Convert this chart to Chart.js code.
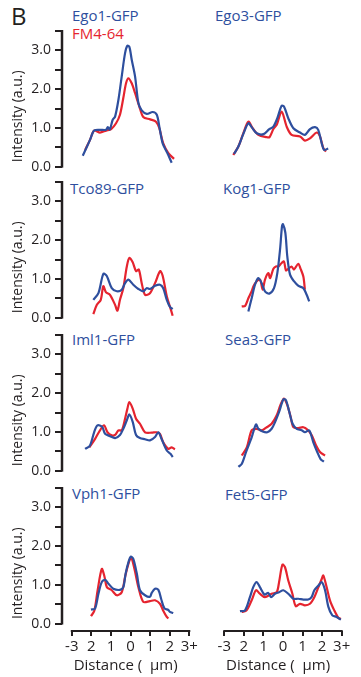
<!DOCTYPE html>
<html>
<head>
<meta charset="utf-8">
<script src="https://cdn.jsdelivr.net/npm/chart.js@4/dist/chart.umd.min.js"></script>
<style>
  html, body { margin: 0; padding: 0; background: #fff; }
  body { width: 361px; height: 677px; position: relative; overflow: hidden; font-family: "Open Sans", sans-serif; }
  canvas { position: absolute; }
  .lbl { position: absolute; white-space: nowrap; line-height: 1; }
  .blue { color: #2e4f9e; font-size: 15px; }
  .red { color: #e5242f; font-size: 15px; }
</style>
</head>
<body>
<div class="lbl" style="left:11px; top:4px; font-size:24px; color:#231f20;">B</div>
<div class="lbl blue" style="left:72px; top:8px;">Ego1-GFP</div>
<div class="lbl red" style="left:72px; top:26px;">FM4-64</div>
<div class="lbl blue" style="left:215px; top:8px;">Ego3-GFP</div>
<div class="lbl blue" style="left:70px; top:181px;">Tco89-GFP</div>
<div class="lbl blue" style="left:223px; top:181px;">Kog1-GFP</div>
<div class="lbl blue" style="left:72px; top:332px;">Iml1-GFP</div>
<div class="lbl blue" style="left:225px; top:332px;">Sea3-GFP</div>
<div class="lbl blue" style="left:72px; top:486px;">Vph1-GFP</div>
<div class="lbl blue" style="left:225px; top:487px;">Fet5-GFP</div>
<script>
// ---------- DATA ----------
const xTickValues = [-3, -2, -1, 0, 1, 2, 3];
const xTickLabels = ['-3', '2', '1', '0', '1', '2', '3+'];
const yTickValues = [0, 0.5, 1, 1.5, 2, 2.5, 3, 3.5];
const yTickLabels = ['0.0', '', '1.0', '', '2.0', '', '3.0', ''];
const panelNames = ['Ego1-GFP', 'Ego3-GFP', 'Tco89-GFP', 'Kog1-GFP', 'Iml1-GFP', 'Sea3-GFP', 'Vph1-GFP', 'Fet5-GFP'];
const seriesNames = ['GFP', 'FM4-64'];

const ego1GfpX = [-2.44,-2.24,-2.07,-1.86,-1.56,-1.25,-1.16,-1.06,-0.91,-0.79,-0.62,-0.45,-0.28,-0.16,-0.06,0.06,0.23,0.40,0.57,0.83,1.13,1.34,1.47,1.64,1.88,2.10];
const ego1GfpY = [0.28,0.50,0.69,0.93,0.95,0.95,1.02,0.96,1.21,1.29,1.72,2.33,2.93,3.12,3.09,2.76,2.33,1.64,1.45,1.36,1.41,1.34,1.03,0.60,0.35,0.10];
const ego1FmX = [-2.32,-2.07,-1.86,-1.56,-1.25,-0.99,-0.74,-0.54,-0.37,-0.23,-0.11,0.06,0.23,0.45,0.65,1.00,1.30,1.47,1.67,1.93,2.22];
const ego1FmY = [0.43,0.69,0.93,0.88,0.93,0.97,1.12,1.34,1.77,2.15,2.28,2.15,1.90,1.55,1.28,1.22,1.16,0.99,0.60,0.35,0.20];

const ego3GfpX = [-2.50,-2.28,-2.03,-1.77,-1.60,-1.34,-0.99,-0.70,-0.49,-0.29,-0.07,0.05,0.27,0.53,0.87,1.12,1.38,1.64,1.80,1.98,2.10,2.31];
const ego3GfpY = [0.33,0.52,0.84,1.12,1.02,0.86,0.84,0.97,1.03,1.25,1.57,1.55,1.25,0.99,0.88,0.82,0.97,1.02,0.95,0.60,0.43,0.47];
const ego3FmX = [-2.54,-2.28,-2.03,-1.77,-1.55,-1.26,-0.83,-0.69,-0.49,-0.32,-0.07,0.19,0.44,0.87,1.12,1.38,1.72,1.89,2.06,2.20];
const ego3FmY = [0.30,0.52,0.86,1.16,0.99,0.82,0.76,0.76,0.97,1.08,1.42,1.03,0.82,0.78,0.67,0.73,0.88,0.78,0.48,0.39];

const tco89GfpX = [-1.90,-1.64,-1.39,-1.22,-0.96,-0.70,-0.45,-0.28,-0.11,0.14,0.40,0.65,0.82,0.99,1.25,1.50,1.67,1.85,2.02,2.15];
const tco89GfpY = [0.46,0.63,1.13,1.08,0.76,0.68,0.72,0.89,0.98,0.85,0.74,0.68,0.76,0.74,0.82,0.85,0.76,0.46,0.27,0.22];
const tco89FmX = [-1.90,-1.72,-1.52,-1.39,-1.25,-1.05,-0.79,-0.67,-0.54,-0.37,-0.19,-0.06,0.11,0.28,0.42,0.57,0.74,0.99,1.25,1.51,1.64,1.85,2.02,2.15];
const tco89FmY = [0.09,0.33,0.46,0.81,0.65,0.59,0.33,0.18,0.46,0.76,1.32,1.54,1.43,1.20,1.24,0.89,0.59,0.63,0.89,1.20,1.08,0.55,0.27,0.05];

const kog1GfpX = [-1.77,-1.60,-1.43,-1.26,-1.09,-0.92,-0.70,-0.46,-0.29,-0.15,-0.05,0.00,0.12,0.22,0.36,0.56,0.79,1.04,1.21,1.34];
const kog1GfpY = [0.16,0.50,0.85,1.02,0.89,0.68,0.62,0.76,1.15,1.76,2.36,2.41,2.19,1.58,1.11,0.94,0.82,0.76,0.59,0.42];
const kog1FmX = [-2.11,-1.94,-1.77,-1.60,-1.51,-1.34,-1.17,-1.04,-0.92,-0.75,-0.66,-0.49,-0.36,-0.24,-0.07,0.05,0.15,0.27,0.44,0.56,0.78,0.90,1.04,1.12];
const kog1FmY = [0.29,0.30,0.50,0.68,0.81,0.94,0.98,0.72,0.98,1.15,1.02,1.26,1.32,1.32,1.41,1.45,1.22,1.26,1.32,1.24,1.39,1.26,1.06,0.72];

const iml1GfpX = [-2.32,-2.07,-1.86,-1.69,-1.45,-1.30,-1.05,-0.79,-0.54,-0.37,-0.19,-0.06,0.11,0.28,0.48,0.74,0.99,1.25,1.42,1.59,1.85,2.05,2.15];
const iml1GfpY = [0.56,0.65,0.99,1.17,1.13,0.95,0.89,0.84,0.92,1.08,1.30,1.45,1.26,0.92,0.84,0.81,0.78,0.87,0.99,0.81,0.52,0.43,0.35];
const iml1FmX = [-2.10,-1.81,-1.56,-1.35,-1.18,-0.96,-0.79,-0.62,-0.45,-0.28,-0.16,-0.06,0.11,0.28,0.48,0.74,1.08,1.34,1.50,1.67,1.93,2.10,2.27];
const iml1FmY = [0.60,0.82,1.04,1.17,0.99,0.91,0.92,1.04,1.04,1.34,1.60,1.77,1.60,1.34,1.21,0.99,0.98,0.99,0.95,0.73,0.56,0.60,0.55];

const sea3GfpX = [-2.28,-2.11,-1.89,-1.60,-1.38,-1.26,-1.04,-0.80,-0.58,-0.41,-0.19,0.02,0.15,0.32,0.49,0.70,0.95,1.12,1.34,1.55,1.75,1.92,2.09];
const sea3GfpY = [0.10,0.17,0.48,0.86,1.19,1.08,1.01,0.99,1.08,1.25,1.53,1.84,1.82,1.52,1.21,1.08,1.04,0.99,1.04,0.73,0.48,0.30,0.23];
const sea3FmX = [-2.11,-1.85,-1.60,-1.34,-1.09,-0.83,-0.58,-0.32,-0.12,0.05,0.22,0.39,0.53,0.78,1.04,1.24,1.47,1.69,1.89,2.15];
const sea3FmY = [0.39,0.60,1.04,1.08,1.04,1.12,1.21,1.43,1.71,1.86,1.69,1.39,1.12,1.10,1.12,1.06,0.91,0.65,0.48,0.39];

const vph1GfpX = [-2.02,-1.81,-1.64,-1.47,-1.30,-1.13,-0.88,-0.54,-0.37,-0.25,-0.11,0.01,0.14,0.32,0.48,0.74,0.99,1.08,1.25,1.42,1.56,1.73,1.93,2.01,2.18];
const vph1GfpY = [0.36,0.39,0.77,1.07,1.13,1.03,0.90,0.87,0.94,1.29,1.58,1.73,1.67,1.29,0.86,0.73,0.69,0.79,0.90,0.87,0.64,0.39,0.35,0.30,0.27];
const vph1FmX = [-2.02,-1.85,-1.68,-1.47,-1.33,-1.21,-0.96,-0.70,-0.45,-0.28,-0.11,0.03,0.20,0.40,0.65,0.99,1.25,1.50,1.67,1.85,1.93];
const vph1FmY = [0.19,0.33,0.86,1.41,1.21,0.94,0.86,0.73,0.81,1.20,1.54,1.70,1.41,0.94,0.56,0.58,0.60,0.51,0.33,0.17,0.13];

const fet5GfpX = [-2.20,-1.94,-1.69,-1.52,-1.35,-1.18,-0.95,-0.75,-0.61,-0.41,-0.20,0.02,0.27,0.53,0.78,1.04,1.29,1.46,1.60,1.81,1.98,2.15,2.32,2.52,2.74,2.96];
const fet5GfpY = [0.32,0.34,0.68,0.94,1.07,0.94,0.75,0.79,0.68,0.77,0.81,0.86,0.77,0.64,0.64,0.62,0.62,0.68,0.86,0.98,1.07,0.86,0.43,0.21,0.17,0.10];
const fet5FmX = [-2.11,-1.86,-1.60,-1.38,-1.18,-0.92,-0.58,-0.32,-0.20,-0.03,0.10,0.27,0.48,0.65,0.87,1.12,1.38,1.60,1.81,1.98,2.06,2.23,2.40,2.62,2.83,2.96];
const fet5FmY = [0.30,0.34,0.60,0.86,0.77,0.68,0.77,0.81,1.07,1.52,1.46,1.11,0.77,0.45,0.51,0.47,0.51,0.68,0.94,1.15,1.24,0.94,0.60,0.34,0.15,0.12];

// ---------- STYLE / LAYOUT ----------
const BLUE = '#2e4f9e';
const RED = '#e5242f';
const INK = '#231f20';
const FONT = '"Open Sans", sans-serif';

const X_MIN = -3.5, X_MAX = 3, Y_MIN = -0.19, Y_MAX = 3.5;
// chart-area pixel boxes
const colArea = [{ left: 62, right: 189.3 }, { left: 214.5, right: 341.7 }];
const rowArea = [
  { top: 31.2, bottom: 174.1 },
  { top: 182.2, bottom: 325.1 },
  { top: 334.5, bottom: 477.4 },
  { top: 487.8, bottom: 630.7 }
];
const colCanvas = [{ left: 0, width: 215 }, { left: 200, width: 161 }];
const PAD_V = 16;

const panelSeries = [
  [ego1GfpX, ego1GfpY, ego1FmX, ego1FmY],
  [ego3GfpX, ego3GfpY, ego3FmX, ego3FmY],
  [tco89GfpX, tco89GfpY, tco89FmX, tco89FmY],
  [kog1GfpX, kog1GfpY, kog1FmX, kog1FmY],
  [iml1GfpX, iml1GfpY, iml1FmX, iml1FmY],
  [sea3GfpX, sea3GfpY, sea3FmX, sea3FmY],
  [vph1GfpX, vph1GfpY, vph1FmX, vph1FmY],
  [fet5GfpX, fet5GfpY, fet5FmX, fet5FmY]
];

function pts(xs, ys) { return xs.map((x, i) => ({ x: x, y: ys[i] })); }

const axisLinesPlugin = {
  id: 'axisLines',
  afterDraw(chart, args, opts) {
    const ctx = chart.ctx;
    const xs = chart.scales.x, ys = chart.scales.y;
    ctx.save();
    ctx.strokeStyle = INK;
    ctx.lineCap = 'butt';
    if (opts.showY) {
      const xp = chart.chartArea.left;
      ctx.lineWidth = 2.5;
      ctx.beginPath();
      ctx.moveTo(xp, ys.getPixelForValue(0) + 1);
      ctx.lineTo(xp, ys.getPixelForValue(Y_MAX) - 1);
      ctx.stroke();
      // y title
      ctx.fillStyle = INK;
      ctx.font = '14px ' + FONT;
      ctx.textAlign = 'center';
      ctx.textBaseline = 'middle';
      ctx.translate(18.5 - opts.canvasLeft, ys.getPixelForValue(1.3));
      ctx.rotate(-Math.PI / 2);
      ctx.fillText('Intensity (a.u.)', 0, 0);
      ctx.setTransform(1, 0, 0, 1, 0, 0);
    }
    if (opts.showX) {
      const yp = chart.chartArea.bottom;
      ctx.lineWidth = 2;
      ctx.beginPath();
      ctx.moveTo(xs.getPixelForValue(-3) - 1, yp);
      ctx.lineTo(xs.getPixelForValue(3) + 1, yp);
      ctx.stroke();
    }
    ctx.restore();
  }
};

panelSeries.forEach((s, i) => {
  const col = i % 2, row = Math.floor(i / 2);
  const showY = col === 0, showX = row === 3;
  const cc = colCanvas[col], ca = colArea[col], ra = rowArea[row];
  const cTop = ra.top - PAD_V;
  const cBottom = showX ? 677 : ra.bottom + PAD_V;
  const canvas = document.createElement('canvas');
  canvas.width = cc.width; canvas.height = Math.round(cBottom - cTop);
  canvas.style.left = cc.left + 'px'; canvas.style.top = cTop + 'px';
  canvas.style.width = cc.width + 'px'; canvas.style.height = canvas.height + 'px';
  document.body.appendChild(canvas);

  const yWidth = ca.left - cc.left;
  const xHeight = canvas.height - (ra.bottom - cTop);

  new Chart(canvas, {
    type: 'line',
    data: {
      datasets: [
        { label: panelNames[i], data: pts(s[0], s[1]), borderColor: BLUE, borderWidth: 2.2, tension: 0.3, pointRadius: 0, fill: false },
        { label: seriesNames[1], data: pts(s[2], s[3]), borderColor: RED, borderWidth: 2.2, tension: 0.3, pointRadius: 0, fill: false }
      ]
    },
    options: {
      responsive: false,
      animation: false,
      devicePixelRatio: 1,
      layout: {
        padding: {
          left: showY ? 0 : ca.left - cc.left,
          right: cc.left + cc.width - ca.right,
          top: ra.top - cTop,
          bottom: showX ? 0 : cBottom - ra.bottom
        }
      },
      plugins: {
        legend: { display: false },
        tooltip: { enabled: false },
        axisLines: { showY: showY, showX: showX, canvasLeft: cc.left }
      },
      scales: {
        x: {
          type: 'linear',
          min: X_MIN, max: X_MAX,
          display: showX,
          afterBuildTicks: sc => { sc.ticks = xTickValues.map(v => ({ value: v })); },
          afterFit: sc => { if (showX) sc.height = xHeight; },
          border: { display: false },
          grid: { drawOnChartArea: false, drawTicks: true, tickLength: 5, color: INK, lineWidth: 2 },
          ticks: {
            color: INK, padding: 2, maxRotation: 0, autoSkip: false,
            font: { family: FONT, size: 15 },
            callback: (v) => { const k = xTickValues.indexOf(v); return k >= 0 ? xTickLabels[k] : ''; }
          },
          title: { display: true, text: 'Distance (  μm)', color: INK, font: { family: FONT, size: 15 }, padding: { top: 0, bottom: 2 } }
        },
        y: {
          type: 'linear',
          min: Y_MIN, max: Y_MAX,
          display: showY,
          afterBuildTicks: sc => { sc.ticks = yTickValues.map(v => ({ value: v })); },
          afterFit: sc => { if (showY) sc.width = yWidth; },
          border: { display: false },
          grid: { drawOnChartArea: false, drawTicks: true, tickLength: 7, color: INK, lineWidth: 2 },
          ticks: {
            color: INK, padding: 4, autoSkip: false,
            font: { family: FONT, size: 14 },
            callback: (v) => { const k = yTickValues.indexOf(v); return k >= 0 ? yTickLabels[k] : ''; }
          }
        }
      }
    },
    plugins: [axisLinesPlugin]
  });
});
</script>
</body>
</html>
